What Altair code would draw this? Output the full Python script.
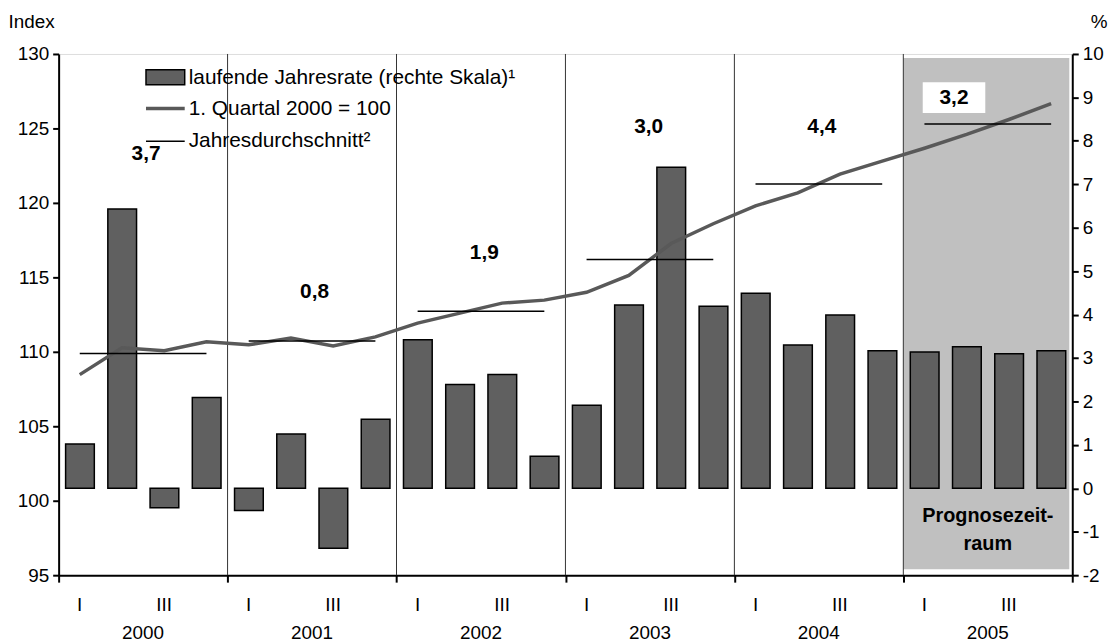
import altair as alt
import pandas as pd

# ---------------- data ----------------
years = ["2000", "2001", "2002", "2003", "2004", "2005"]
quarter_names = ["I", "II", "III", "IV"]
# laufende Jahresrate (%), right axis
rate = [1.02, 6.43, -0.45, 2.09,
        -0.51, 1.25, -1.38, 1.59,
        3.42, 2.39, 2.62, 0.74,
        1.91, 4.22, 7.39, 4.19,
        4.49, 3.30, 3.99, 3.17,
        3.14, 3.26, 3.10, 3.17]
# index level (left axis)
index_level = [108.47, 110.27, 110.07, 110.67,
               110.47, 110.93, 110.40, 111.00,
               111.93, 112.60, 113.27, 113.47,
               114.00, 115.13, 117.27, 118.60,
               119.80, 120.67, 121.93, 122.80,
               123.67, 124.60, 125.60, 126.67]
# Jahresdurchschnitt (left axis)
annual_avg = [109.89, 110.73, 112.73, 116.20, 121.27, 125.29]
annual_rate = ["3,7", "0,8", "1,9", "3,0", "4,4", "3,2"]
rate_label_x = [2.07, 6.06, 10.08, 13.97, 18.07, 21.2]      # in quarters
rate_label_y = [123.3, 114.0, 116.6, 125.07, 125.07, 127.07]  # left axis units
rate_label_boxed = [False, False, False, False, False, True]
forecast_from = 20   # quarter index where forecast begins (2005 Q1)
forecast_text = ["Prognosezeit-", "raum"]
forecast_text_y = [99.0, 97.07]
legend_labels = ["laufende Jahresrate (rechte Skala)¹",
                 "1. Quartal 2000 = 100",
                 "Jahresdurchschnitt²"]

# ---------------- frames ----------------
n = len(rate)
qi = list(range(n))
qdf = pd.DataFrame({
    "q": qi,
    "x0": [i + 0.165 for i in qi],
    "x1": [i + 0.845 for i in qi],
    "xc": [i + 0.5 for i in qi],
    "rate": rate,
    "base": [0.0] * n,
    "idx": index_level,
    "qlab": [quarter_names[i % 4] for i in qi],
})
qlab_df = qdf[qdf["qlab"].isin(["I", "III"])]

ydf = pd.DataFrame({
    "year": years,
    "start": [4 * k for k in range(len(years))],
    "a0": [4 * k + 0.5 for k in range(len(years))],
    "a1": [4 * k + 3.5 for k in range(len(years))],
    "mid": [4 * k + 2 for k in range(len(years))],
    "avg": annual_avg,
    "lab": annual_rate,
    "lx": rate_label_x,
    "ly": rate_label_y,
    "boxed": rate_label_boxed,
})
div_df = ydf[ydf["start"] > 0]
box_df = ydf[ydf["boxed"]]
fc_df = pd.DataFrame({"s": [forecast_from], "e": [n]})
fct_df = pd.DataFrame({"x": [forecast_from + 2] * 2, "y": forecast_text_y, "t": forecast_text})
one = pd.DataFrame({"a": [0]})

# ---------------- scales / axes ----------------
W, H = 1021, 525
FONT = "Liberation Sans"
BAR = "#606060"
LINE = "#595959"

xs = alt.Scale(domain=[0, n], nice=False, zero=False)
xaxis = alt.Axis(values=[4 * k for k in range(len(years) + 1)], labels=False, title=None,
                 tickSize=7, tickWidth=2, tickColor="black", domainColor="black",
                 domainWidth=2, grid=False)
yl = alt.Scale(domain=[95, 130], nice=False, zero=False)
yr = alt.Scale(domain=[-2, 10], nice=False, zero=False)
laxis = alt.Axis(orient="left", values=list(range(95, 131, 5)), title="Index",
                 titleAngle=0, titleAlign="left", titleBaseline="middle",
                 titleX=-51, titleY=-33, titleFontWeight="normal", titleFontSize=19,
                 titleFont=FONT, labelFont=FONT, labelFontSize=19, labelColor="black",
                 tickSize=6, tickWidth=2, tickColor="black", domainColor="black",
                 domainWidth=2, labelPadding=4, grid=False,
                 labelExpr="'' + datum.value")
raxis = alt.Axis(orient="right", values=list(range(-2, 11)), title="%",
                 titleAngle=0, titleAlign="left", titleBaseline="middle",
                 titleX=18, titleY=-33, titleFontWeight="normal", titleFontSize=19,
                 titleFont=FONT, labelFont=FONT, labelFontSize=19, labelColor="black",
                 tickSize=6, tickWidth=2, tickColor="black", domainColor="black",
                 domainWidth=2, labelPadding=4, grid=False,
                 labelExpr="'' + datum.value")


def X(f):
    return alt.X(f, type="quantitative", scale=xs, axis=xaxis)


def YL(f):
    return alt.Y(f, type="quantitative", scale=yl, axis=laxis)


# ---------------- background layer ----------------
forecast = alt.Chart(fc_df).mark_rect(color="#c0c0c0", x2Offset=-3).encode(
    x=X("s"), x2="e", y=alt.value(4), y2=alt.value(H - 6))
dividers = alt.Chart(div_df).mark_rule(color="#333333", strokeWidth=1).encode(
    x=X("start"), y=alt.value(0), y2=alt.value(H))
bg = alt.layer(forecast, dividers)

# ---------------- bars (right axis) ----------------
bars = alt.Chart(qdf).mark_rect(color=BAR, stroke="black", strokeWidth=1.5).encode(
    x=X("x0"), x2="x1",
    y=alt.Y("rate", type="quantitative", scale=yr, axis=raxis), y2="base")

# ---------------- top layer (left axis) ----------------
line = alt.Chart(qdf).mark_line(color=LINE, strokeWidth=3.5).encode(x=X("xc"), y=YL("idx"))
avg = alt.Chart(ydf).mark_rule(color="black", strokeWidth=1.5).encode(
    x=X("a0"), x2="a1", y=YL("avg"))
box = alt.Chart(box_df).mark_point(shape="M-1,-0.49H1V0.49H-1Z", filled=True, fill="white",
                                   opacity=1, strokeWidth=0, size=3969).encode(
    x=X("lx"), y=YL("ly"))
labels = alt.Chart(ydf).mark_text(font=FONT, fontSize=21, fontWeight="bold", color="black",
                                  baseline="middle", align="center").encode(
    x=X("lx"), y=YL("ly"), text="lab")
fct = alt.Chart(fct_df).mark_text(font=FONT, fontSize=20, fontWeight="bold", color="black",
                                  baseline="middle", align="center").encode(
    x=X("x"), y=YL("y"), text="t")
qtext = alt.Chart(qlab_df).mark_text(font=FONT, fontSize=19, color="black",
                                     baseline="middle", align="center").encode(
    x=X("xc"), y=alt.value(H + 30), text="qlab")
ytext = alt.Chart(ydf).mark_text(font=FONT, fontSize=19, color="black",
                                 baseline="middle", align="center").encode(
    x=X("mid"), y=alt.value(H + 58), text="year")

# legend
lg_rect = alt.Chart(one).mark_rect(color=BAR, stroke="black", strokeWidth=1.5).encode(
    x=alt.value(88), x2=alt.value(127), y=alt.value(16), y2=alt.value(31))
lg_line = alt.Chart(one).mark_rule(color=LINE, strokeWidth=3.5).encode(
    x=alt.value(88), x2=alt.value(127), y=alt.value(55))
lg_avg = alt.Chart(one).mark_rule(color="black", strokeWidth=1.5).encode(
    x=alt.value(88), x2=alt.value(127), y=alt.value(88))
lg_texts = [
    alt.Chart(one).mark_text(font=FONT, fontSize=21, color="black", align="left",
                             baseline="middle").encode(
        x=alt.value(131), y=alt.value(yy), text=alt.value(t))
    for t, yy in zip(legend_labels, [24, 55, 88])
]

top = alt.layer(line, avg, box, labels, fct, qtext, ytext, lg_rect, lg_line, lg_avg, *lg_texts)

chart = alt.layer(bg, bars, top).resolve_scale(y="independent").properties(
    width=W, height=H,
    padding={"left": 51, "top": 44, "right": 37, "bottom": 67},
    autosize=alt.AutoSizeParams(type="none"),
).configure_view(stroke="black", strokeWidth=2).configure(background="white")

chart.save("out.html", embed_options={"renderer": "svg", "actions": False})
